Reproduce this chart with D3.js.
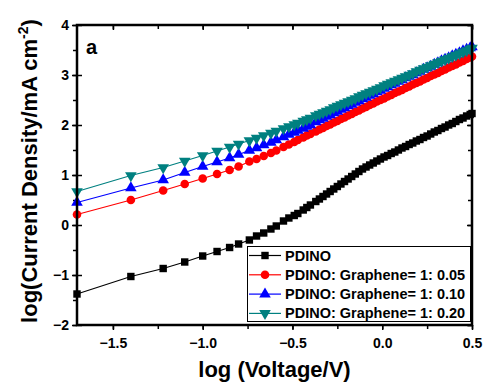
<!DOCTYPE html>
<html>
<head>
<meta charset="utf-8">
<script src="https://cdn.jsdelivr.net/npm/d3@7"></script>
<style>
  body { margin: 0; background: #fff; }
  text { font-family: "Liberation Sans", Arial, sans-serif; font-weight: bold; }
</style>
</head>
<body>
<div id="chart"></div>
<script>
// log(V) values shared by every curve
const logV = [-1.70, -1.40, -1.22, -1.10, -1.00, -0.92, -0.85, -0.80, -0.74, -0.70,
  -0.66, -0.62, -0.59, -0.55, -0.52, -0.49, -0.47, -0.44, -0.42, -0.40,
  -0.37, -0.35, -0.33, -0.31, -0.29, -0.27, -0.25, -0.23, -0.21, -0.19,
  -0.17, -0.15, -0.13, -0.11, -0.09, -0.07, -0.05, -0.03, -0.01,
  0.01, 0.03, 0.05, 0.07, 0.09, 0.11, 0.13, 0.15, 0.17, 0.19, 0.21, 0.23, 0.25,
  0.27, 0.29, 0.31, 0.33, 0.35, 0.37, 0.39, 0.41, 0.43, 0.45, 0.47, 0.49, 0.50];

const pdino = [-1.38, -1.03, -0.87, -0.74, -0.62, -0.53, -0.45, -0.38, -0.30, -0.22,
  -0.16, -0.08, -0.02, 0.08, 0.14, 0.19, 0.23, 0.30, 0.35, 0.40,
  0.47, 0.52, 0.57, 0.62, 0.67, 0.72, 0.77, 0.82, 0.87, 0.92,
  0.97, 1.02, 1.07, 1.12, 1.16, 1.20, 1.24, 1.28, 1.32,
  1.36, 1.39, 1.43, 1.46, 1.50, 1.54, 1.57, 1.61, 1.64, 1.68, 1.71, 1.75, 1.78,
  1.82, 1.86, 1.89, 1.93, 1.96, 2.00, 2.03, 2.07, 2.11, 2.14, 2.18, 2.21, 2.23];

const g005 = [0.21, 0.50, 0.69, 0.82, 0.93, 1.02, 1.10, 1.17, 1.27, 1.32,
  1.38, 1.44, 1.49, 1.56, 1.61, 1.66, 1.70, 1.75, 1.79, 1.82,
  1.87, 1.91, 1.94, 1.98, 2.01, 2.05, 2.08, 2.12, 2.15, 2.19,
  2.22, 2.26, 2.29, 2.33, 2.36, 2.40, 2.43, 2.47, 2.50,
  2.53, 2.57, 2.60, 2.64, 2.67, 2.70, 2.74, 2.77, 2.81, 2.84, 2.87, 2.91, 2.94,
  2.98, 3.01, 3.04, 3.08, 3.11, 3.15, 3.18, 3.21, 3.25, 3.28, 3.32, 3.35, 3.37];

const g010 = [0.45, 0.74, 0.90, 1.05, 1.17, 1.26, 1.34, 1.41, 1.49, 1.54,
  1.60, 1.65, 1.70, 1.76, 1.81, 1.85, 1.89, 1.93, 1.97, 2.00,
  2.06, 2.10, 2.13, 2.17, 2.20, 2.24, 2.27, 2.31, 2.34, 2.38,
  2.41, 2.45, 2.48, 2.52, 2.55, 2.59, 2.62, 2.66, 2.69,
  2.73, 2.76, 2.80, 2.83, 2.87, 2.90, 2.94, 2.97, 3.00, 3.04, 3.07, 3.11, 3.14,
  3.17, 3.21, 3.24, 3.28, 3.31, 3.34, 3.38, 3.41, 3.44, 3.48, 3.51, 3.54, 3.56];

const g020 = [0.67, 0.99, 1.15, 1.28, 1.39, 1.48, 1.56, 1.62, 1.69, 1.74,
  1.79, 1.84, 1.88, 1.93, 1.97, 2.01, 2.04, 2.08, 2.11, 2.14,
  2.19, 2.22, 2.25, 2.28, 2.31, 2.35, 2.38, 2.41, 2.44, 2.47,
  2.50, 2.53, 2.57, 2.60, 2.63, 2.66, 2.69, 2.72, 2.75,
  2.79, 2.82, 2.85, 2.88, 2.91, 2.94, 2.97, 3.00, 3.03, 3.07, 3.10, 3.13, 3.16,
  3.19, 3.22, 3.25, 3.28, 3.31, 3.34, 3.37, 3.40, 3.43, 3.46, 3.49, 3.52, 3.54];

const seriesNames = ["PDINO", "PDINO: Graphene= 1: 0.05", "PDINO: Graphene= 1: 0.10", "PDINO: Graphene= 1: 0.20"];
const seriesValues = [pdino, g005, g010, g020];
const seriesColors = ["#000000", "#ff0000", "#0000ff", "#008080"];
const seriesSymbols = [d3.symbolSquare, d3.symbolCircle, d3.symbolTriangle, "down"];

const xTicks = [-1.5, -1.0, -0.5, 0.0, 0.5];
const yTicks = [-2, -1, 0, 1, 2, 3, 4];

const width = 487, height = 385,
  margin = { top: 25, right: 15, bottom: 60, left: 77 };

const svg = d3.select("#chart")
  .append("svg")
  .attr("width", width)
  .attr("height", height);

const xScale = d3.scaleLinear()
  .domain([-1.7, 0.5])
  .range([margin.left, width - margin.right]);

const yScale = d3.scaleLinear()
  .domain([-2, 4])
  .range([height - margin.bottom, margin.top]);

const x0 = xScale.range()[0], x1 = xScale.range()[1];
const y0 = yScale.range()[0], y1 = yScale.range()[1];

// axes: bottom + left carry labels, top + right only ticks
const fmtX = d3.format(".1f");
const xMinor = d3.range(-1.5, 0.51, 0.25);
const yMinor = d3.range(-2, 4.01, 0.5);

function styleAxis(g) {
  g.select(".domain").remove();
  g.selectAll("line").attr("stroke", "#000").attr("stroke-width", 1.5);
  g.selectAll("text").attr("fill", "#000").style("font-size", "14px");
}

// minor ticks
svg.append("g")
  .attr("transform", `translate(0,${y0})`)
  .call(d3.axisBottom(xScale).tickValues(xMinor).tickSize(4).tickFormat(""))
  .call(styleAxis);
svg.append("g")
  .attr("transform", `translate(0,${y1})`)
  .call(d3.axisBottom(xScale).tickValues(xMinor).tickSize(4).tickFormat(""))
  .call(styleAxis);
svg.append("g")
  .attr("transform", `translate(${x0},0)`)
  .call(d3.axisLeft(yScale).tickValues(yMinor).tickSize(4).tickFormat(""))
  .call(styleAxis);
svg.append("g")
  .attr("transform", `translate(${x1},0)`)
  .call(d3.axisLeft(yScale).tickValues(yMinor).tickSize(4).tickFormat(""))
  .call(styleAxis);

// major ticks with labels
svg.append("g")
  .attr("transform", `translate(0,${y0})`)
  .call(d3.axisBottom(xScale).tickValues(xTicks).tickSize(5).tickPadding(8).tickFormat(fmtX))
  .call(styleAxis);
svg.append("g")
  .attr("transform", `translate(${x0},0)`)
  .call(d3.axisLeft(yScale).tickValues(yTicks).tickSize(5).tickPadding(3).tickFormat(d3.format("d")))
  .call(styleAxis);
svg.append("g")
  .attr("transform", `translate(${x0},0)`)
  .call(d3.axisRight(yScale).tickValues(yTicks).tickSize(5).tickFormat(""))
  .call(styleAxis);
svg.append("g")
  .attr("transform", `translate(${x1},0)`)
  .call(d3.axisLeft(yScale).tickValues(yTicks).tickSize(5).tickFormat(""))
  .call(styleAxis);
svg.append("g")
  .attr("transform", `translate(0,${y1})`)
  .call(d3.axisBottom(xScale).tickValues(xTicks).tickSize(5).tickFormat(""))
  .call(styleAxis);

// curves
const line = d3.line()
  .x((d, i) => xScale(logV[i]))
  .y(d => yScale(d));

function symbolPath(sym, size) {
  if (sym === "down") return d3.symbol(d3.symbolTriangle, size)();
  return d3.symbol(sym, size)();
}
const symbolSizes = [55, 58, 58, 58];

seriesValues.forEach((vals, k) => {
  const g = svg.append("g");
  g.append("path")
    .datum(vals)
    .attr("d", line)
    .attr("fill", "none")
    .attr("stroke", seriesColors[k])
    .attr("stroke-width", 1.2);
  g.selectAll("path.pt")
    .data(vals)
    .enter()
    .append("path")
    .attr("class", "pt")
    .attr("d", symbolPath(seriesSymbols[k], symbolSizes[k]))
    .attr("transform", (d, i) => `translate(${xScale(logV[i])},${yScale(d)})` + (seriesSymbols[k] === "down" ? " rotate(180)" : ""))
    .attr("fill", seriesColors[k]);
});

// frame
svg.append("rect")
  .attr("x", x0)
  .attr("y", y1)
  .attr("width", x1 - x0)
  .attr("height", y0 - y1)
  .attr("fill", "none")
  .attr("stroke", "#000")
  .attr("stroke-width", 2.5);

// panel letter
svg.append("text")
  .text("a")
  .attr("x", 86)
  .attr("y", 54)
  .style("font-size", "20px");

// legend
const legend = svg.append("g");
legend.append("rect")
  .attr("x", 247.5)
  .attr("y", 246.5)
  .attr("width", 223)
  .attr("height", 75)
  .attr("fill", "#fff")
  .attr("stroke", "#000")
  .attr("stroke-width", 1);

seriesNames.forEach((name, k) => {
  const cy = 255.5 + k * 19.3;
  legend.append("line")
    .attr("x1", 249).attr("x2", 281)
    .attr("y1", cy).attr("y2", cy)
    .attr("stroke", seriesColors[k])
    .attr("stroke-width", 1.2);
  legend.append("path")
    .attr("d", symbolPath(seriesSymbols[k], symbolSizes[k]))
    .attr("transform", `translate(265,${cy})` + (seriesSymbols[k] === "down" ? " rotate(180)" : ""))
    .attr("fill", seriesColors[k]);
  legend.append("text")
    .text(name)
    .attr("x", 285)
    .attr("y", cy + 5)
    .style("font-size", "14.5px");
});

// axis titles
svg.append("text")
  .text("log (Voltage/V)")
  .attr("x", (x0 + x1) / 2)
  .attr("y", 377)
  .attr("text-anchor", "middle")
  .style("font-size", "22px");

const yTitle = svg.append("text")
  .attr("transform", "translate(37,171) rotate(-90)")
  .attr("text-anchor", "middle")
  .style("font-size", "22px");
yTitle.append("tspan").text("log(Current Density/mA cm");
yTitle.append("tspan").text("-2").attr("dy", -9).style("font-size", "14px");
yTitle.append("tspan").text(")").attr("dy", 9);
</script>
</body>
</html>
